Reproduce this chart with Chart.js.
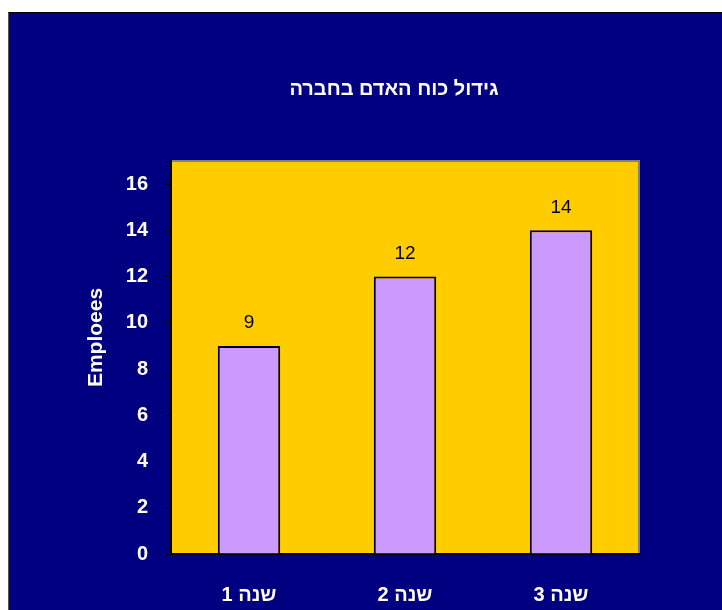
<!DOCTYPE html>
<html>
<head>
<meta charset="utf-8">
<script src="https://cdn.jsdelivr.net/npm/chart.js@4.4.1/dist/chart.umd.min.js"></script>
<style>
  html, body { margin: 0; padding: 0; background: #fff; }
  #wrap {
    position: absolute; left: 8px; top: 12px; width: 714px; height: 598px;
    background: #000080; border-top: 1px solid #000; border-left: 1px solid #555;
    box-sizing: border-box;
  }
  #chart { display: block; }
</style>
</head>
<body>
<div id="wrap"><canvas id="chart" width="713" height="597"></canvas></div>
<script>
// data
const categories = ['שנה 1', 'שנה 2', 'שנה 3'];
const employees = [9, 12, 14];
const chartTitle = 'גידול כוח האדם בחברה';
const yTitle = 'Emploees';

// fondo amarillo del área de la gráfica y marco gris arriba/derecha
const plotBg = {
    id: 'plotBg',
    beforeDraw(chart) {
        const { ctx, chartArea: a } = chart;
        ctx.save();
        ctx.fillStyle = '#FFCC00';
        ctx.fillRect(a.left, a.top, a.right - a.left, a.bottom - a.top);
        ctx.strokeStyle = '#808080';
        ctx.lineWidth = 2;
        ctx.beginPath();
        ctx.moveTo(a.left, a.top);
        ctx.lineTo(a.right, a.top);
        ctx.lineTo(a.right, a.bottom);
        ctx.stroke();
        ctx.restore();
    }
};

// títulos y etiquetas de valores
const texts = {
    id: 'texts',
    afterDraw(chart) {
        const { ctx, chartArea: a } = chart;
        ctx.save();
        ctx.fillStyle = '#fff';
        ctx.font = 'bold 20px Arial, "Liberation Sans", sans-serif';
        ctx.textAlign = 'center';
        ctx.textBaseline = 'middle';
        ctx.direction = 'rtl';
        ctx.fillText(chartTitle, (a.left + a.right) / 2 - 11, a.top - 72);
        ctx.direction = 'ltr';
        ctx.font = 'bold 21px Arial, "Liberation Sans", sans-serif';
        ctx.translate(87, (a.top + a.bottom) / 2 - 20);
        ctx.rotate(-Math.PI / 2);
        ctx.fillText(yTitle, 0, 0);
        ctx.restore();

        const meta = chart.getDatasetMeta(0);
        ctx.save();
        ctx.fillStyle = '#000';
        ctx.font = '19px Arial, "Liberation Sans", sans-serif';
        ctx.textAlign = 'center';
        ctx.textBaseline = 'middle';
        meta.data.forEach((bar, i) => {
            ctx.fillText(String(employees[i]), bar.x, bar.y - 23);
        });
        ctx.restore();
    }
};

const tickFont = { family: 'Arial, "Liberation Sans", sans-serif', size: 20, weight: 'bold' };

let config = {
    type: 'bar',
    data: {
        labels: categories,
        datasets: [{
            data: employees,
            backgroundColor: '#CC99FF',
            borderColor: '#000',
            borderWidth: 2,
            categoryPercentage: 1,
            barPercentage: 0.4
        }]
    },
    options: {
        responsive: false,
        animation: false,
        layout: { padding: { left: 100, top: 148, right: 83, bottom: 0 } },
        scales: {
            x: {
                offset: true,
                grid: { offset: true, drawOnChartArea: false, color: '#000', tickLength: 6, lineWidth: 1 },
                border: { color: '#000', width: 2 },
                ticks: { color: '#fff', font: tickFont, padding: 23 },
                afterFit: (s) => { s.height = 56; }
            },
            y: {
                min: 0,
                max: 17,
                ticks: {
                    stepSize: 2, color: '#fff', font: tickFont, padding: 18,
                    callback: (v) => (v % 2 === 0 ? v : '')
                },
                grid: { drawOnChartArea: false, color: '#000', tickLength: 5 },
                border: { color: '#000', width: 2 },
                afterFit: (s) => { s.width = 62; }
            }
        },
        plugins: {
            legend: { display: false },
            title: { display: false },
            tooltip: { enabled: false }
        }
    },
    plugins: [plotBg, texts]
};

new Chart(document.getElementById('chart'), config);
</script>
</body>
</html>
